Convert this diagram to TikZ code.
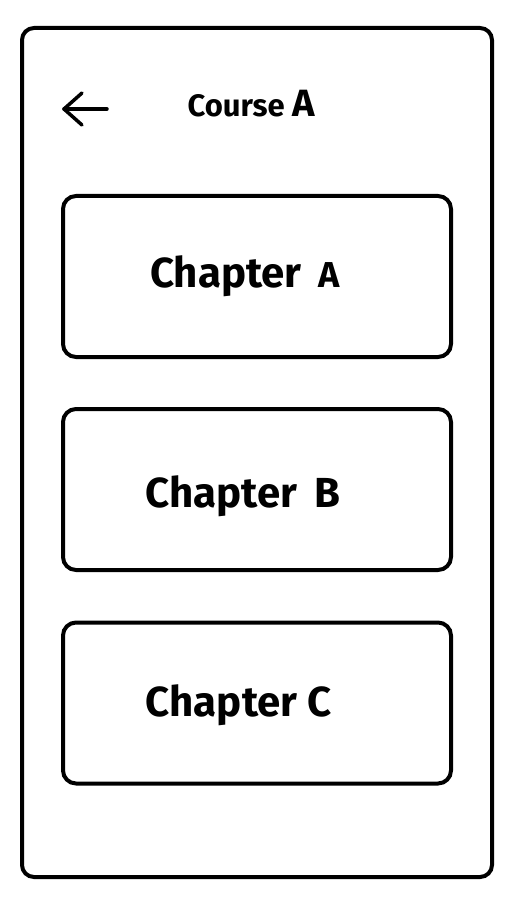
\documentclass[tikz,border=0pt]{standalone}
\usepackage{fontspec}
\setmainfont{Fira Sans}
\usetikzlibrary{shapes}

\tikzset{
    card/.style={draw, line width=4pt, rounded corners=13pt, minimum width=388pt, minimum height=161pt},
    title/.style={font=\bfseries\fontsize{42}{44}\selectfont, inner sep=0pt}
}

\begin{document}
\begin{tikzpicture}[x=1pt, y=-1pt]
    
    \useasboundingbox (0,0) rectangle (525,909);
    
    \node[draw, line width=4pt, rounded corners=12pt, minimum width=470pt, minimum height=849pt] (P) at (257,452.5) {};
    
    \draw[line width=3.5pt, line cap=round, line join=round] (82,93) -- (64,109) -- (82,125);
    \draw[line width=3.5pt, line cap=round] (64,109) -- (107,109);
    
    \node[inner sep=0pt, anchor=base, font=\bfseries\fontsize{31}{33}\selectfont] (T) at (251,117) {Course {\fontsize{38}{40}\selectfont A}};
    
    \node[card] (CA) at (257,276.5) {};
    \node[card] (CB) at (257,489.5) {};
    \node[card] (CC) at (257,703) {};
    
    \node[title, anchor=base] (LA) at (245,287) {Chapter\hspace{0.4em}{\fontsize{36}{38}\selectfont A}};
    \node[title, anchor=base] (LB) at (243,507) {Chapter\hspace{0.4em}B};
    \node[title, anchor=base] (LC) at (239,716) {Chapter\hspace{0.25em}C};
    
\end{tikzpicture}
\end{document}
